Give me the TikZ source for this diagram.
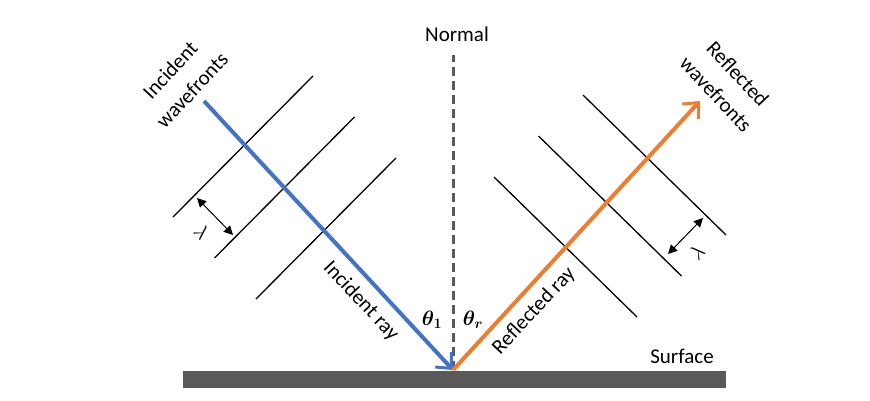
\documentclass[tikz,border=0pt]{standalone}
\usepackage{fontspec}
\usepackage{amsmath,amssymb}
\usepackage{bm}
\usepackage{xcolor}
\usetikzlibrary{arrows.meta}
\setmainfont{Carlito}
\definecolor{rayblue}{HTML}{4472C4}
\definecolor{rayorange}{HTML}{ED7D31}
\definecolor{surfgray}{HTML}{595959}

\begin{document}
\begin{tikzpicture}[x=1pt,y=1pt,font=\fontsize{21}{30}\selectfont,
    front/.style={draw=black,line width=1.3pt},
    ray/.style={line width=4pt,-{Straight Barb[length=12pt,width=22pt,line width=3pt]}},
    lam/.style={draw=black,line width=1pt,{Triangle[length=9pt,width=9pt]}-{Triangle[length=9pt,width=9pt]}}]
    \useasboundingbox (0,0) rectangle (870,400);
    % surface and normal
    \path[fill=surfgray] (183,12) rectangle (726,29);
    \coordinate (hit) at (453,30);
    \coordinate (ntop) at (453,345);
    \path[draw=surfgray,line width=3pt,dash pattern=on 9pt off 5pt] (hit) -- (ntop);
    \node[anchor=base] (normal) at (457,358) {Normal};
    \node[anchor=base] (surface) at (682,37) {Surface};
    % incident side
    \begin{scope}
      \foreach \i in {0,1,2}
        \path[front] (173+41.5*\i,183-41*\i) -- ++(140,141);
      \coordinate (inc) at (204,299);
      \path[draw=rayblue,ray] (inc) -- (hit);
      \coordinate (la) at (197,202);
      \coordinate (lb) at (233,165);
      \path[lam] (la) -- (lb);
      \node[rotate=-47] (lamleft) at (202,168) {$\lambda$};
      \node[rotate=47,align=center] (incfront) at (181,320) {Incident\\wavefronts};
      \node[rotate=-47] (incray) at (361,99) {Incident ray};
      \node (thetaone) at (432,80) {$\bm{\theta}_{\bm{1}}$};
    \end{scope}
    % reflected side
    \begin{scope}
      \foreach \i in {0,1,2}
        \path[front] (494+44.5*\i,223+41*\i) -- ++(143,-140);
      \coordinate (refl) at (700,299);
      \path[draw=rayorange,ray] (hit) -- (refl);
      \coordinate (ra) at (668,146);
      \coordinate (rb) at (703,182);
      \path[lam] (ra) -- (rb);
      \node[rotate=47] (lamright) at (697,148) {$\lambda$};
      \node[rotate=-47,align=center] (reffront) at (727,316) {Reflected\\wavefronts};
      \node[rotate=47] (refray) at (534,89) {Reflected ray};
      \node (thetar) at (473,80) {$\bm{\theta}_{\bm{r}}$};
    \end{scope}
  \end{tikzpicture}
\end{document}
